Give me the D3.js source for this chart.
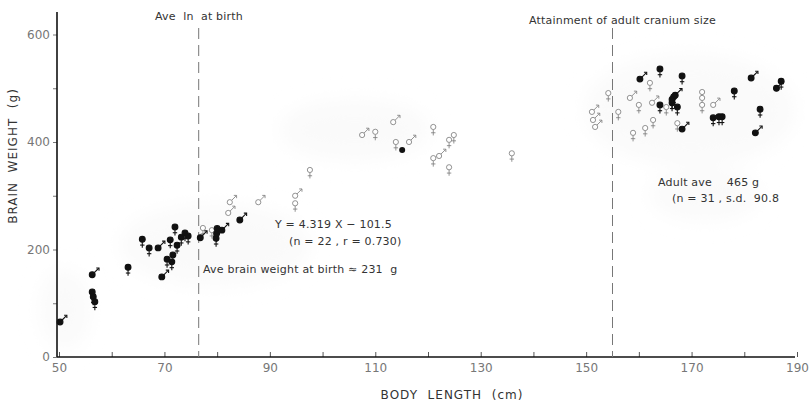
<!DOCTYPE html>
<html>
<head>
<meta charset="UTF-8">
<title>Brain weight vs body length</title>
<style>
  body { margin: 0; background: #fff; }
  text { font-family: "DejaVu Sans", "Liberation Sans", sans-serif; white-space: pre; }
</style>
</head>
<body>
<script src="https://d3js.org/d3.v7.min.js"></script>
<script>
// body length (cm) / brain weight (g), one pair of arrays per symbol
var filledFemaleLength = [56.3, 56.5, 56.8, 63.1, 65.8, 67.1, 71.1, 72.0, 70.5, 71.4, 71.6, 72.4, 73.2, 73.9, 74.5, 79.8, 79.9, 80.0,
    164.0, 168.2, 164.0, 166.3, 166.3, 166.6, 167.3, 174.1, 175.2, 175.8, 178.1, 183.0, 187.0]
var filledFemaleWeight = [121, 112, 103, 167, 219, 203, 218, 242, 182, 177, 190, 208, 223, 231, 225, 221, 230, 239,
    536, 523, 469, 473, 479, 484, 465, 445, 447, 447, 495, 461, 513]

var filledMaleLength = [56.3, 50.2, 69.5, 68.8, 76.8, 80.9, 84.3, 160.2, 166.9, 168.2, 181.3, 182.1, 186.1]
var filledMaleWeight = [153, 65, 149, 203, 222, 236, 255, 517, 487, 424, 519, 417, 500]

var openFemaleLength = [77.3, 79.0, 94.8, 97.6, 110.0, 113.9, 121.0, 121.0, 124.0, 124.9, 124.0, 135.9,
    154.2, 156.1, 160.0, 158.9, 161.2, 162.1, 162.7, 165.2, 167.3, 172.0, 172.0, 172.0]
var openFemaleWeight = [240, 236, 286, 348, 419, 400, 428, 370, 404, 413, 353, 379,
    491, 456, 469, 417, 426, 510, 441, 465, 435, 493, 482, 469]

var openMaleLength = [82.1, 82.4, 87.8, 94.8, 107.5, 113.4, 116.4, 122.1, 151.1, 151.3, 151.7, 158.3, 162.5, 174.1]
var openMaleWeight = [268, 288, 288, 300, 413, 437, 400, 374, 456, 441, 428, 482, 473, 469]

var dotLength = [115.1]
var dotWeight = [385]

var xTicks = [50, 60, 70, 80, 90, 100, 110, 120, 130, 140, 150, 160, 170, 180, 190]
var xLabels = [50, 70, 90, 110, 130, 150, 170, 190]
var yTicks = [0, 100, 200, 300, 400, 500, 600]
var yLabels = [0, 200, 400, 600]

var birthLength = 76.5   // Ave ln at birth
var adultLength = 155    // adult cranium size

var width = 809, height = 406
var svg = d3.select("body").append("svg").attr("width", width).attr("height", height)

var x = d3.scaleLinear().domain([50, 190]).range([59, 797])
var y = d3.scaleLinear().domain([0, 600]).range([357, 34.5])

// faint scan shading
var defs = svg.append("defs")
defs.append("filter").attr("id", "blur").append("feGaussianBlur").attr("stdDeviation", 10)
var shade = svg.append("g").attr("filter", "url(#blur)").attr("fill", "#fafafa")
shade.append("ellipse").attr("cx", 215).attr("cy", 245).attr("rx", 95).attr("ry", 40)
shade.append("ellipse").attr("cx", 355).attr("cy", 130).attr("rx", 75).attr("ry", 30)
shade.append("ellipse").attr("cx", 690).attr("cy", 110).attr("rx", 105).attr("ry", 55)
shade.append("ellipse").attr("cx", 705).attr("cy", 195).attr("rx", 55).attr("ry", 25)
shade.append("ellipse").attr("cx", 65).attr("cy", 310).attr("rx", 25).attr("ry", 40)

// axes
var xAxis = d3.axisBottom(x).tickValues(xTicks).tickSizeInner(-5).tickSizeOuter(0).tickPadding(6)
    .tickFormat(function(d){ return xLabels.indexOf(d) >= 0 ? d : "" })
var gx = svg.append("g").attr("transform", "translate(0," + y(0) + ")").call(xAxis)
gx.select(".domain").remove()
gx.selectAll("line").attr("stroke", "#555")
gx.selectAll("text").attr("fill", "#777").attr("font-size", 12)

var yAxis = d3.axisLeft(y).tickValues(yTicks).tickSizeInner(4).tickSizeOuter(0).tickPadding(3)
    .tickFormat(function(d){ return yLabels.indexOf(d) >= 0 ? d : "" })
var gy = svg.append("g").attr("transform", "translate(" + (x(50) - 2) + ",0)").call(yAxis)
gy.select(".domain").remove()
gy.selectAll("line").attr("stroke", "#777")
gy.selectAll("text").attr("fill", "#777").attr("font-size", 12)

svg.append("line").attr("x1", x(50) - 2).attr("x2", x(50) - 2).attr("y1", y(0)).attr("y2", y(642))
    .attr("stroke", "#111").attr("stroke-width", 1.6)
svg.append("line").attr("x1", x(50) - 2).attr("x2", x(190) - 2).attr("y1", y(0)).attr("y2", y(0))
    .attr("stroke", "#111").attr("stroke-width", 1.4)

// dashed reference lines
;[birthLength, adultLength].forEach(function(v){
  svg.append("line").attr("x1", x(v)).attr("x2", x(v)).attr("y1", 28).attr("y2", y(0))
    .attr("stroke", "#777").attr("stroke-width", 1).attr("stroke-dasharray", "11,6")
})

// symbols
function zip(a, b){ return a.map(function(d, i){ return [d, b[i]] }) }

function female(g, filled){
  g.append("line").attr("x1", 0).attr("x2", 0).attr("y1", 2.5).attr("y2", 8.5)
  g.append("line").attr("x1", -2.2).attr("x2", 2.2).attr("y1", 5.8).attr("y2", 5.8)
  g.append("circle").attr("r", filled ? 2.9 : 2.6)
    .attr("fill", filled ? "#111" : "#fff")
}
function male(g, filled){
  g.append("line").attr("x1", 1.8).attr("y1", -1.8).attr("x2", 6.5).attr("y2", -6.5)
  g.append("path").attr("d", "M4,-6.8 L6.8,-6.8 L6.8,-4").attr("fill", "none")
  g.append("circle").attr("r", filled ? 2.9 : 2.6)
    .attr("fill", filled ? "#111" : "#fff")
}

function drawSeries(data, maker, filled){
  svg.append("g").selectAll("g").data(data).enter().append("g")
    .attr("transform", function(d){ return "translate(" + x(d[0]) + "," + y(d[1]) + ")" })
    .attr("stroke", filled ? "#111" : "#777")
    .attr("stroke-width", filled ? 1.1 : 0.8)
    .each(function(){ maker(d3.select(this), filled) })
}

drawSeries(zip(openFemaleLength, openFemaleWeight), female, false)
drawSeries(zip(openMaleLength, openMaleWeight), male, false)
drawSeries(zip(filledFemaleLength, filledFemaleWeight), female, true)
drawSeries(zip(filledMaleLength, filledMaleWeight), male, true)
svg.append("g").selectAll("circle").data(zip(dotLength, dotWeight)).enter().append("circle")
  .attr("cx", function(d){ return x(d[0]) }).attr("cy", function(d){ return y(d[1]) })
  .attr("r", 3).attr("fill", "#111")

// annotations
function note(tx, ty, str){
  svg.append("text").attr("x", tx).attr("y", ty).attr("fill", "#333")
    .attr("font-size", 11).attr("letter-spacing", 0.2).text(str)
}
note(155, 20, "Ave  ln  at birth")
note(529, 24, "Attainment of adult cranium size")
note(275, 228, "Y = 4.319 X − 101.5")
note(289, 245, "(n = 22 , r = 0.730)")
note(203, 273, "Ave brain weight at birth ≈ 231  g")
note(658, 186, "Adult ave    465 g")
note(672, 202, "(n = 31 , s.d.  90.8")

svg.append("text").attr("transform", "translate(17,156) rotate(-90)")
  .attr("text-anchor", "middle").attr("fill", "#333").attr("font-size", 12)
  .attr("letter-spacing", 1).text("BRAIN  WEIGHT  (g)")
svg.append("text").attr("x", 452).attr("y", 399)
  .attr("text-anchor", "middle").attr("fill", "#333").attr("font-size", 12)
  .attr("letter-spacing", 1).text("BODY  LENGTH  (cm)")
</script>
</body>
</html>
